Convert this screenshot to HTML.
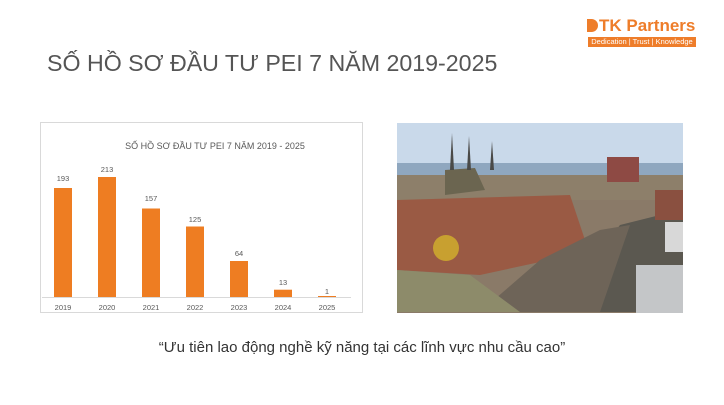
<!DOCTYPE html>
<html><head><meta charset="utf-8"><style>
body{margin:0;width:724px;height:405px;background:#fff;overflow:hidden;position:relative;font-family:"Liberation Sans","DejaVu Sans",sans-serif}
.t{position:absolute;white-space:nowrap}
</style></head><body>
<div class="t" style="left:47px;top:50px;font-size:23.2px;color:#555">SỐ HỒ SƠ ĐẦU TƯ PEI 7 NĂM 2019-2025</div>
<div class="t" style="left:587px;top:16px;font-size:17px;color:#ee7d2a;font-weight:bold"><span style="display:inline-block;width:11px;height:13px;background:#ee7d2a;border-radius:0 7px 7px 0;margin-right:1px;vertical-align:-1px"></span>TK Partners</div>
<div class="t" style="left:588px;top:37px;width:108px;height:10px;background:#ee7d2a;color:#fff;font-size:7.5px;line-height:10px;text-align:center">Dedication | Trust | Knowledge</div>
<svg style="position:absolute;left:0;top:0" width="724" height="405">
<rect x="40.5" y="122.5" width="322" height="190" fill="#fff" stroke="#d9d9d9"/>
<text x="215" y="149" font-size="9" fill="#595959" text-anchor="middle" font-family="Liberation Sans, sans-serif">SỐ HỒ SƠ ĐẦU TƯ PEI 7 NĂM 2019 - 2025</text>
<line x1="42" y1="297.5" x2="351" y2="297.5" stroke="#d9d9d9"/>
<g fill="#ee7d22">
<rect x="54" y="188" width="18" height="109"/>
<rect x="98" y="177" width="18" height="120"/>
<rect x="142" y="208.5" width="18" height="88.5"/>
<rect x="186" y="226.5" width="18" height="70.5"/>
<rect x="230" y="261" width="18" height="36"/>
<rect x="274" y="289.7" width="18" height="7.3"/>
<rect x="318" y="296" width="18" height="1"/>
</g>
<g font-size="7.5" fill="#595959" text-anchor="middle" font-family="Liberation Sans, sans-serif">
<text x="63" y="181">193</text><text x="107" y="172">213</text><text x="151" y="201">157</text><text x="195" y="222">125</text><text x="239" y="256">64</text><text x="283" y="285">13</text><text x="327" y="294">1</text>
<text x="63" y="310">2019</text><text x="107" y="310">2020</text><text x="151" y="310">2021</text><text x="195" y="310">2022</text><text x="239" y="310">2023</text><text x="283" y="310">2024</text><text x="327" y="310">2025</text>
</g>
<defs><clipPath id="c"><rect x="397" y="123" width="286" height="190"/></clipPath></defs>
<g clip-path="url(#c)">
<rect x="397" y="123" width="286" height="190" fill="#8a7a68"/>
<rect x="397" y="123" width="286" height="40" fill="#c9d9ea"/>
<rect x="397" y="163" width="286" height="12" fill="#8fa7bf"/>
<rect x="397" y="175" width="286" height="25" fill="#8d7f6a"/>
<polygon points="397,200 570,195 585,240 540,262 480,275 397,270" fill="#9a5a44"/>
<polygon points="445,170 475,168 485,190 445,195" fill="#6b6550"/>
<polygon points="450,170 452,133 454,170" fill="#4a4a48"/>
<polygon points="467,170 469,136 471,170" fill="#4a4a48"/>
<polygon points="490,170 492,141 494,170" fill="#4a4a48"/>
<rect x="607" y="157" width="32" height="25" fill="#8e4a44"/>
<polygon points="555,312 620,225 660,215 683,220 683,312" fill="#5b5850"/>
<polygon points="480,312 540,260 600,230 630,225 600,312" fill="#6e6458"/>
<polygon points="397,270 470,275 520,312 397,312" fill="#8d8b6a"/>
<circle cx="446" cy="248" r="13" fill="#c8a030"/>
<rect x="636" y="265" width="47" height="48" fill="#c4c6c8"/>
<rect x="665" y="222" width="18" height="30" fill="#d8d8d8"/>
<rect x="655" y="190" width="28" height="30" fill="#8a5040"/>
</g>
</svg>
<div class="t" style="left:0;width:724px;text-align:center;top:339px;font-size:15px;color:#333">“Ưu tiên lao động nghề kỹ năng tại các lĩnh vực nhu cầu cao”</div>
</body></html>
